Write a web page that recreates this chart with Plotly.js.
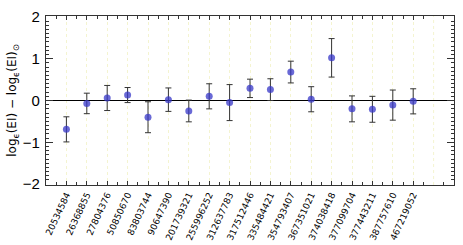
<!DOCTYPE html>
<html>
<head>
<meta charset="utf-8">
<script src="https://cdn.plot.ly/plotly-3.0.1.min.js"></script>
<style>html,body{margin:0;padding:0;background:#fff;}#chart{width:463px;height:245px;}</style>
</head>
<body>
<div id="chart"></div>
<script>
const categories = ["20534584","26368855","27804376","50850670","83803744","90647390","201739321","255996252","312637783","317512446","335484421","354793407","367351021","374038418","377099704","377443211","387757610","467219052"];
const values = [-0.69,-0.07,0.06,0.13,-0.40,0.02,-0.25,0.10,-0.05,0.29,0.26,0.68,0.03,1.02,-0.20,-0.21,-0.11,-0.02];
const errors = [0.30,0.245,0.30,0.18,0.37,0.28,0.26,0.30,0.43,0.22,0.26,0.26,0.30,0.46,0.31,0.31,0.36,0.30];

const xpos = categories.map((c,i)=>i);
const extraGridX = categories.length;

const trace = {
  x: xpos, y: values, type: 'scatter', mode: 'markers',
  marker: {color: 'rgba(55,55,200,0.75)', size: 7},
  error_y: {type: 'data', array: errors, visible: true, color: '#333', thickness: 1, width: 3},
  hoverinfo: 'skip'
};

const gridColor = '#f4f4d0';

const layout = {
  width: 463, height: 245,
  margin: {l: 46, r: 9, t: 16, b: 60},
  paper_bgcolor: '#fff', plot_bgcolor: '#fff',
  showlegend: false,
  font: {family: 'DejaVu Sans, Arial, sans-serif', color: '#000'},
  xaxis: {
    range: [-1, 19], tickmode: 'array', tickvals: xpos, ticktext: categories,
    tickangle: -65, tickfont: {size: 9},
    showgrid: true, gridcolor: gridColor, griddash: 'dot', gridwidth: 1,
    ticks: 'inside', ticklen: 4, tickcolor: '#333', mirror: 'allticks',
    showline: true, linecolor: '#333', linewidth: 1.2,
    zeroline: false,
    minor: {tickmode: 'linear', tick0: 0.5, dtick: 1, ticks: 'inside', ticklen: 3, tickcolor: '#333', showgrid: false}
  },
  yaxis: {
    range: [-2.02, 2.02], tickmode: 'linear', tick0: 0, dtick: 1,
    tickfont: {size: 15, family: 'Liberation Sans, Arial, sans-serif'}, showgrid: false,
    ticklabelstandoff: 2,
    ticks: 'inside', ticklen: 7, tickcolor: '#333', mirror: 'allticks',
    showline: true, linecolor: '#333', linewidth: 1.2,
    zeroline: true, zerolinecolor: '#000', zerolinewidth: 1.5,
    minor: {tickmode: 'linear', tick0: 0, dtick: 0.1, ticks: 'inside', ticklen: 3, tickcolor: '#333', showgrid: false},
    title: {text: 'log<sub>ϵ</sub>(EI) − log<sub>ϵ</sub>(EI)<sub>⊙</sub>', font: {size: 12}, standoff: 3}
  },
  shapes: [{type: 'line', xref: 'x', yref: 'paper', x0: extraGridX, x1: extraGridX, y0: 0, y1: 1,
            line: {color: gridColor, width: 1, dash: 'dot'}, layer: 'below'}]
};

Plotly.newPlot('chart', [trace], layout, {displayModeBar: false, staticPlot: true});
</script>
</body>
</html>
